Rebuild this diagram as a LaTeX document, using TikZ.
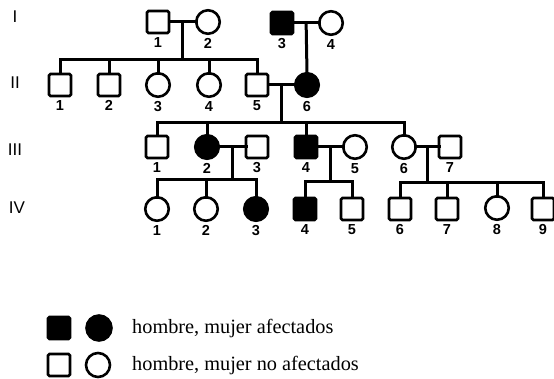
\documentclass[tikz,border=0pt]{standalone}
\usepackage{fontspec}
\setmainfont{Liberation Serif}
\newfontfamily\numfont{Liberation Sans}
\usetikzlibrary{calc}
\begin{document}
\begin{tikzpicture}[x=1pt,y=-1pt,
  sym/.style={draw=black,line width=2.6pt,inner sep=0pt,outer sep=0pt},
  male/.style={sym,rectangle,minimum size=22pt,rounded corners=1.5pt},
  female/.style={sym,circle,minimum size=23.5pt},
  aff/.style={fill=black},
  una/.style={fill=white},
  numlab/.style={font=\numfont\bfseries\fontsize{14.5}{14.5}\selectfont,inner sep=0pt},
  genlab/.style={font=\numfont\fontsize{17}{17}\selectfont,inner sep=0pt},
  leg/.style={font=\fontsize{20.3}{20.3}\selectfont,inner sep=0pt,anchor=west},
  line/.style={line width=3pt,line join=miter,line cap=rect},
  every label/.style={numlab},
  label distance=4.5pt]
\useasboundingbox (0,0) rectangle (554,379);

% generation labels
\node[genlab] (g1) at (15,17) {I};
\node[genlab] (g2) at (15,83) {II};
\node[genlab] (g3) at (15,150) {III};
\node[genlab] (g4) at (17,208) {IV};

% generation I
\node[male,una,label=below:1] (i1) at (158,22) {};
\node[female,una,label=below:2] (i2) at (208,22) {};
\node[male,aff,label=below:3] (i3) at (282,23) {};
\node[female,una,label=below:4] (i4) at (331,23) {};

% generation II
\node[male,una,label=below:1] (ii1) at (60,85) {};
\node[male,una,label=below:2] (ii2) at (109,85) {};
\node[female,una,label=below:3] (ii3) at (158,85) {};
\node[female,una,label=below:4] (ii4) at (209,85) {};
\node[male,una,label=below:5] (ii5) at (257,85) {};
\node[female,aff,label=below:6] (ii6) at (307,85) {};

% generation III
\node[male,una,label=below:1] (iii1) at (157,147) {};
\node[female,aff,label=below:2] (iii2) at (207,147) {};
\node[male,una,label=below:3] (iii3) at (257,147) {};
\node[male,aff,label=below:4] (iii4) at (306,147) {};
\node[female,una,label=below:5] (iii5) at (355,147) {};
\node[female,una,label=below:6] (iii6) at (404,147) {};
\node[male,una,label=below:7] (iii7) at (450,147) {};

% generation IV
\node[female,una,label=below:1] (iv1) at (157,209) {};
\node[female,una,label=below:2] (iv2) at (206,209) {};
\node[female,aff,label=below:3] (iv3) at (256,209) {};
\node[male,aff,label=below:4] (iv4) at (305,209) {};
\node[male,una,label=below:5] (iv5) at (352,209) {};
\node[male,una,label=below:6] (iv6) at (400,209) {};
\node[male,una,label=below:7] (iv7) at (447,209) {};
\node[female,una,label=below:8] (iv8) at (497,208) {};
\node[male,una,label=below:9] (iv9) at (543,209) {};

% marriage midpoints and sibship junctions
\coordinate (m1) at ($(i1.east)!0.5!(i2.west)$);
\coordinate (m2) at ($(i3.east)!0.5!(i4.west)$);
\coordinate (m3) at ($(ii5.east)!0.5!(ii6.west)$);
\coordinate (m4) at ($(iii2.east)!0.5!(iii3.west)$);
\coordinate (m5) at ($(iii4.east)!0.5!(iii5.west)$);
\coordinate (m6) at ($(iii6.east)!0.5!(iii7.west)$);
\coordinate (s1) at ($(m1)+(0,38)$);
\coordinate (s3) at ($(m3)+(0,38)$);
\coordinate (s4) at ($(m4)+(0,33)$);
\coordinate (s5) at ($(m5)+(0,35)$);
\coordinate (s6) at ($(m6)+(0,36)$);

\begin{scope}[line]
% couples
\draw (i1.east) -- (i2.west);
\draw (i3.east) -- (i4.west);
\draw (ii5.east) -- (ii6.west);
\draw (iii2.east) -- (iii3.west);
\draw (iii4.east) -- (iii5.west);
\draw (iii6.east) -- (iii7.west);
% descents
\draw (m1) -- (s1);
\draw (m2) -- (ii6.north);
\draw (m3) -- (s3);
\draw (m4) -- (s4);
\draw (m5) -- (s5);
\draw (m6) -- (s6);
% children of I-1 x I-2
\foreach \c in {ii1,ii2,ii3,ii4,ii5} \draw (\c.north) |- (s1);
% children of II-5 x II-6
\foreach \c in {iii1,iii2,iii4,iii6} \draw (\c.north) |- (s3);
% children of III-2 x III-3
\foreach \c in {iv1,iv2,iv3} \draw (\c.north) |- (s4);
% children of III-4 x III-5
\foreach \c in {iv4,iv5} \draw (\c.north) |- (s5);
% children of III-6 x III-7
\foreach \c in {iv6,iv7,iv8,iv9} \draw (\c.north) |- (s6);
\end{scope}

% legend
\node[male,aff] (lm1) at (59,328) {};
\node[female,aff,minimum size=25pt] (lf1) at (99,328) {};
\node[leg] (lt1) at (132,329) {hombre, mujer afectados};
\node[male,una] (lm2) at (59,365) {};
\node[female,una,minimum size=24pt] (lf2) at (98,365) {};
\node[leg] (lt2) at (132,366) {hombre, mujer no afectados};
\end{tikzpicture}
\end{document}
